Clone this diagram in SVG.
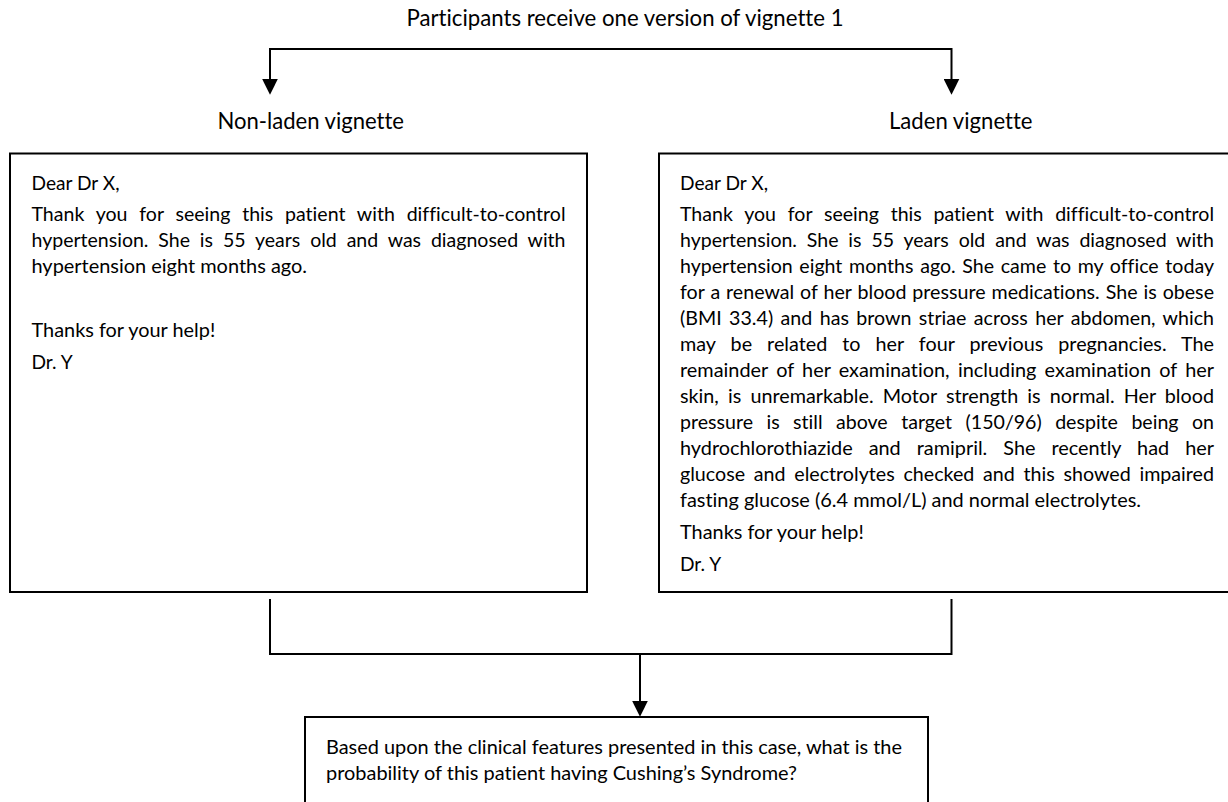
<svg xmlns="http://www.w3.org/2000/svg" width="1228" height="802" viewBox="0 0 1228 802">
<style>
.box{fill:#fff;stroke:#000;stroke-width:2}
.c{fill:none;stroke:#000;stroke-width:2}
text{font-family:Lato,"Open Sans","Liberation Sans",sans-serif;fill:#000;font-variant-ligatures:none}
.t{font-size:20px}
.h{font-size:22.5px}
</style>
<defs>
<marker id="arr" markerUnits="userSpaceOnUse" markerWidth="16" markerHeight="16" viewBox="0 0 15 15" refX="5" refY="7.5" orient="auto">
<path d="M0,0 L15,7.5 L0,15 Z" fill="#000"/>
</marker>
</defs>
<rect width="1228" height="802" fill="#fff"/>
<g id="title">
<text class="h" x="406.5" y="26" textLength="437" lengthAdjust="spacingAndGlyphs">Participants receive one version of vignette 1</text>
</g>
<g id="connectors">
<path class="c" d="M611,49 H270 V84" marker-end="url(#arr)"/>
<path class="c" d="M611,49 H951.5 V84" marker-end="url(#arr)"/>
<path class="c" d="M270,599 V654 H951.5 V599"/>
<path class="c" d="M640,654 V706" marker-end="url(#arr)"/>
</g>
<g id="node-nonladen">
<text class="h" x="217.5" y="129" textLength="186.5" lengthAdjust="spacingAndGlyphs">Non-laden vignette</text>
<rect class="box" x="10" y="153.5" width="577" height="438.5"/>
<text class="t" x="31.5" y="190" textLength="88" lengthAdjust="spacingAndGlyphs">Dear Dr X,</text>
<text class="t" x="31.5" y="221" textLength="534" lengthAdjust="spacingAndGlyphs" word-spacing="7.0">Thank you for seeing this patient with difficult-to-control</text>
<text class="t" x="31.5" y="247" textLength="534" lengthAdjust="spacingAndGlyphs" word-spacing="5.0">hypertension. She is 55 years old and was diagnosed with</text>
<text class="t" x="31.5" y="273" textLength="275.5" lengthAdjust="spacingAndGlyphs">hypertension eight months ago.</text>
<text class="t" x="31.5" y="337" textLength="183.8" lengthAdjust="spacingAndGlyphs">Thanks for your help!</text>
<text class="t" x="31.5" y="369" textLength="41.2" lengthAdjust="spacingAndGlyphs">Dr. Y</text>
</g>
<g id="node-laden">
<text class="h" x="889" y="129" textLength="143.5" lengthAdjust="spacingAndGlyphs">Laden vignette</text>
<rect class="box" x="659" y="153.5" width="580" height="438.5"/>
<text class="t" x="680" y="190" textLength="88" lengthAdjust="spacingAndGlyphs">Dear Dr X,</text>
<text class="t" x="680" y="221" textLength="534" lengthAdjust="spacingAndGlyphs" word-spacing="7.0">Thank you for seeing this patient with difficult-to-control</text>
<text class="t" x="680" y="247" textLength="534" lengthAdjust="spacingAndGlyphs" word-spacing="5.0">hypertension. She is 55 years old and was diagnosed with</text>
<text class="t" x="680" y="273" textLength="534" lengthAdjust="spacingAndGlyphs" word-spacing="1.7">hypertension eight months ago. She came to my office today</text>
<text class="t" x="680" y="299" textLength="534" lengthAdjust="spacingAndGlyphs" word-spacing="0.95">for a renewal of her blood pressure medications. She is obese</text>
<text class="t" x="680" y="325" textLength="534" lengthAdjust="spacingAndGlyphs" word-spacing="2.45">(BMI 33.4) and has brown striae across her abdomen, which</text>
<text class="t" x="680" y="351" textLength="534" lengthAdjust="spacingAndGlyphs" word-spacing="10.1">may be related to her four previous pregnancies. The</text>
<text class="t" x="680" y="377" textLength="534" lengthAdjust="spacingAndGlyphs" word-spacing="3.2">remainder of her examination, including examination of her</text>
<text class="t" x="680" y="403" textLength="534" lengthAdjust="spacingAndGlyphs" word-spacing="4.1">skin, is unremarkable. Motor strength is normal. Her blood</text>
<text class="t" x="680" y="429" textLength="534" lengthAdjust="spacingAndGlyphs" word-spacing="8.6">pressure is still above target (150/96) despite being on</text>
<text class="t" x="680" y="455" textLength="534" lengthAdjust="spacingAndGlyphs" word-spacing="11.0">hydrochlorothiazide and ramipril. She recently had her</text>
<text class="t" x="680" y="481" textLength="534" lengthAdjust="spacingAndGlyphs" word-spacing="3.75">glucose and electrolytes checked and this showed impaired</text>
<text class="t" x="680" y="507" textLength="461" lengthAdjust="spacingAndGlyphs">fasting glucose (6.4 mmol/L) and normal electrolytes.</text>
<text class="t" x="680" y="539" textLength="183.8" lengthAdjust="spacingAndGlyphs">Thanks for your help!</text>
<text class="t" x="680" y="570.5" textLength="41.2" lengthAdjust="spacingAndGlyphs">Dr. Y</text>
</g>
<g id="node-question">
<rect class="box" x="305" y="717" width="623" height="100"/>
<text class="t" x="326" y="754" textLength="576" lengthAdjust="spacingAndGlyphs">Based upon the clinical features presented in this case, what is the</text>
<text class="t" x="326" y="780" textLength="471" lengthAdjust="spacingAndGlyphs">probability of this patient having Cushing’s Syndrome?</text>
</g>
</svg>
